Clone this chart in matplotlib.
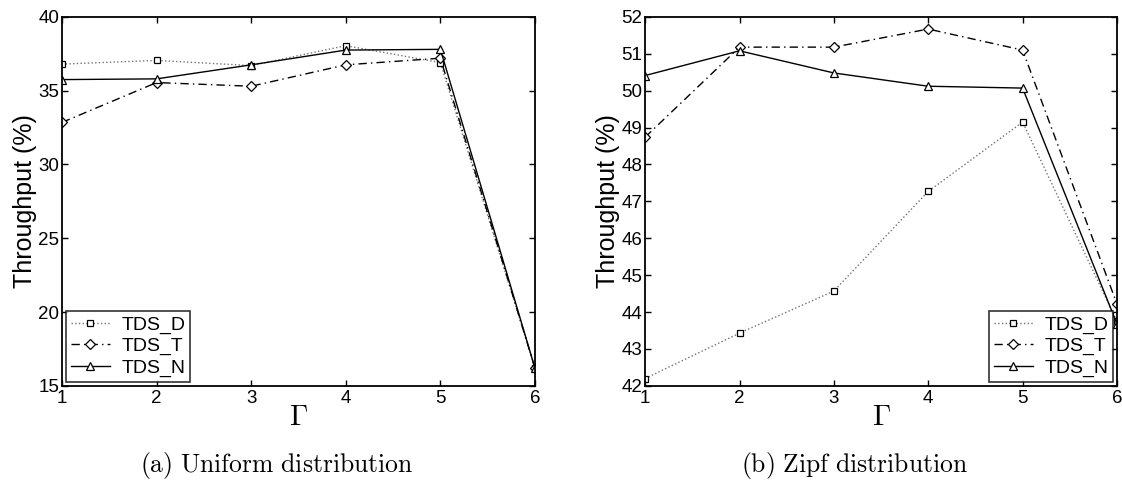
import numpy as np
import matplotlib
matplotlib.use("Agg")
import matplotlib.pyplot as plt

plt.rcParams['font.family'] = ['Liberation Sans', 'DejaVu Sans']
plt.rcParams['mathtext.fontset'] = 'cm'

gamma = [1, 2, 3, 4, 5, 6]
series_names = ['TDS_D', 'TDS_T', 'TDS_N']

# (a) Uniform distribution
uni_d = [36.8, 37.05, 36.7, 38.05, 36.9, 16.2]
uni_t = [32.85, 35.55, 35.3, 36.75, 37.2, 16.2]
uni_n = [35.75, 35.8, 36.75, 37.75, 37.8, 16.2]

# (b) Zipf distribution
zipf_d = [42.2, 43.43, 44.57, 47.27, 49.15, 43.75]
zipf_t = [48.74, 51.18, 51.18, 51.67, 51.1, 44.22]
zipf_n = [50.41, 51.08, 50.48, 50.12, 50.07, 43.68]

styles = [
    dict(color='0.45', linestyle=':', marker='s', markersize=5),
    dict(color='black', linestyle='-.', marker='D', markersize=5.5, dashes=(6, 3, 1, 3)),
    dict(color='black', linestyle='-', marker='^', markersize=6),
]

fig = plt.figure(figsize=(11.22, 4.96), dpi=100)
ax1 = fig.add_axes([0.0553, 0.222, 0.4215, 0.744])
ax2 = fig.add_axes([0.575, 0.222, 0.4205, 0.744])


def draw_panel(ax, data, ylim, yticks, legend_loc, caption, cap_x):
    for vals, name, st in zip(data, series_names, styles):
        ax.plot(gamma, vals, label=name, linewidth=1.0,
                markerfacecolor='white', markeredgecolor='black',
                markeredgewidth=0.9, **st)
    ax.set_xlim(1, 6)
    ax.set_ylim(*ylim)
    ax.set_xticks(gamma)
    ax.set_yticks(yticks)
    ax.tick_params(direction='in', top=True, right=True, labelsize=13.5,
                   length=4, width=1)
    ax.tick_params(axis='x', pad=3)
    ax.tick_params(axis='y', pad=2)
    for sp in ax.spines.values():
        sp.set_linewidth(1.3)
    ax.set_xlabel(r'$\Gamma$', fontsize=21, labelpad=-3)
    ax.set_ylabel('Throughput (%)', fontsize=18, labelpad=1)
    leg = ax.legend(loc=legend_loc, fontsize=14, frameon=True, fancybox=False,
                    edgecolor='black', handlelength=2.0, borderaxespad=0.2,
                    labelspacing=0.2, borderpad=0.25, handletextpad=0.6)
    leg.get_frame().set_linewidth(1.2)
    fig.text(cap_x, 0.062, caption, ha='center', va='center', fontsize=18.5)


draw_panel(ax1, [uni_d, uni_t, uni_n], (15, 40), [15, 20, 25, 30, 35, 40],
           'lower left', r'$\mathrm{(a)\ Uniform\ distribution}$', 0.247)
draw_panel(ax2, [zipf_d, zipf_t, zipf_n], (42, 52), list(range(42, 53)),
           'lower right', r'$\mathrm{(b)\ Zipf\ distribution}$', 0.762)

fig.savefig('out.png', dpi=100)
